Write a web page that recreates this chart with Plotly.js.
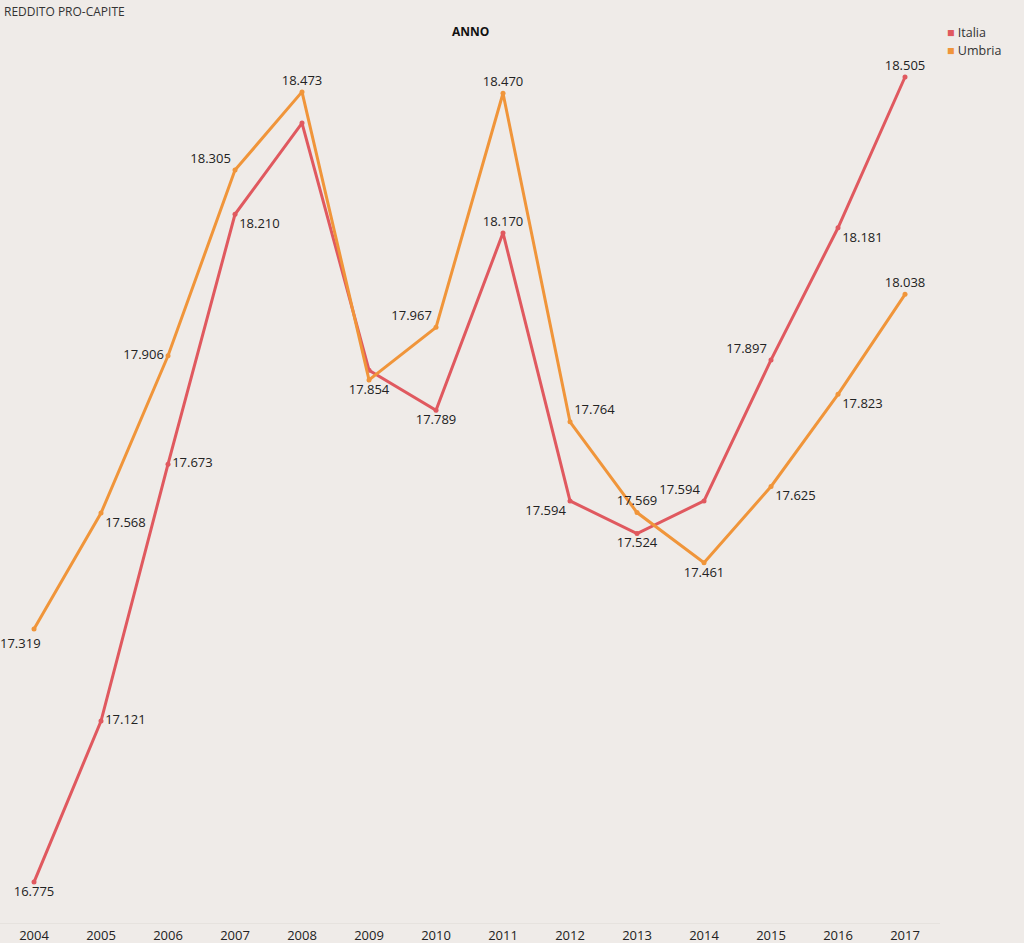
<!DOCTYPE html>
<html>
<head>
<meta charset="utf-8">
<script src="https://cdn.plot.ly/plotly-3.0.1.min.js"></script>
<style>
html,body{margin:0;padding:0;background:#efebe8;}
#chart{width:1024px;height:943px;}
</style>
</head>
<body>
<div id="chart"></div>
<script>
const years = [2004,2005,2006,2007,2008,2009,2010,2011,2012,2013,2014,2015,2016,2017];
const italia = [16.775,17.121,17.673,18.210,18.406,17.875,17.789,18.170,17.594,17.524,17.594,17.897,18.181,18.505];
const umbria = [17.319,17.568,17.906,18.305,18.473,17.854,17.967,18.470,17.764,17.569,17.461,17.625,17.823,18.038];
const italiaShowLabel = [1,1,1,1,0,0,1,1,1,1,1,1,1,1];
const italiaPos = ['bottom center','middle right','middle right','bottom right','top center','top center','bottom center','top center','bottom left','bottom center','top left','top left','bottom right','top center'];
const umbriaPos = ['bottom left','bottom right','middle left','top left','top center','bottom center','top left','top center','top right','top center','bottom center','bottom right','bottom right','top center'];
const seriesNames = ['Italia','Umbria'];
const colors = ['#e0595f','#f0953a'];

function fmt(v){ return v.toFixed(3); }

const traces = [
  {
    x: years, y: italia, name: seriesNames[0], type: 'scatter', mode: 'lines+markers+text',
    line: {color: colors[0], width: 3},
    marker: {color: colors[0], size: 5},
    text: italia.map((v,i)=> italiaShowLabel[i] ? fmt(v) : ''),
    textposition: italiaPos,
    textfont: {family: 'Open Sans, sans-serif', size: 13, color: '#222'},
    cliponaxis: false, showlegend: false, hoverinfo: 'x+y'
  },
  {
    x: years, y: umbria, name: seriesNames[1], type: 'scatter', mode: 'lines+markers+text',
    line: {color: colors[1], width: 3},
    marker: {color: colors[1], size: 5},
    // first label is drawn as an annotation so it stays inside the page
    text: umbria.map((v,i)=> i === 0 ? '' : fmt(v)),
    textposition: umbriaPos,
    textfont: {family: 'Open Sans, sans-serif', size: 13, color: '#222'},
    cliponaxis: false, showlegend: false, hoverinfo: 'x+y'
  }
];

const layout = {
  width: 1024, height: 943,
  paper_bgcolor: '#efebe8', plot_bgcolor: '#efebe8',
  margin: {l: 0, r: 84, t: 40, b: 20},
  font: {family: 'Open Sans, sans-serif', color: '#222'},
  xaxis: {
    range: [2003.4925, 2017.522],
    tickvals: years, ticktext: years.map(String),
    showgrid: false, zeroline: false,
    showline: true, linecolor: '#e6e2de', linewidth: 1,
    ticks: '', tickfont: {size: 13, color: '#222'},
    fixedrange: true
  },
  yaxis: {
    range: [16.687, 18.5845],
    showgrid: false, zeroline: false, showticklabels: false,
    showline: true, linecolor: '#e9e5e1', linewidth: 1,
    ticks: '', fixedrange: true
  },
  showlegend: false,
  annotations: [
    {text: 'REDDITO PRO-CAPITE', xref: 'paper', yref: 'paper', x: 0, y: 1, xanchor: 'left', yanchor: 'bottom',
     xshift: 2, yshift: 18, showarrow: false, font: {size: 12, color: '#333'}},
    {text: '<b>ANNO</b>', xref: 'paper', yref: 'paper', x: 0.5, y: 1, xanchor: 'center', yanchor: 'middle',
     yshift: 9, showarrow: false, font: {size: 12, color: '#111'}},
    {text: '<span style="color:' + colors[0] + '">■</span> ' + seriesNames[0], xref: 'paper', yref: 'paper',
     x: 1, y: 1, xanchor: 'left', yanchor: 'middle', xshift: 5, yshift: 8, showarrow: false, align: 'left',
     font: {size: 12.5, color: '#333'}},
    {text: '<span style="color:' + colors[1] + '">■</span> ' + seriesNames[1], xref: 'paper', yref: 'paper',
     x: 1, y: 1, xanchor: 'left', yanchor: 'middle', xshift: 5, yshift: -10, showarrow: false, align: 'left',
     font: {size: 12.5, color: '#333'}},
    {text: fmt(umbria[0]), xref: 'paper', yref: 'y', x: 0, y: umbria[0], xanchor: 'left', yanchor: 'top',
     xshift: -2, yshift: -3, showarrow: false, font: {size: 13, color: '#222'}}
  ]
};

Plotly.newPlot('chart', traces, layout, {displayModeBar: false, staticPlot: true});
</script>
</body>
</html>
